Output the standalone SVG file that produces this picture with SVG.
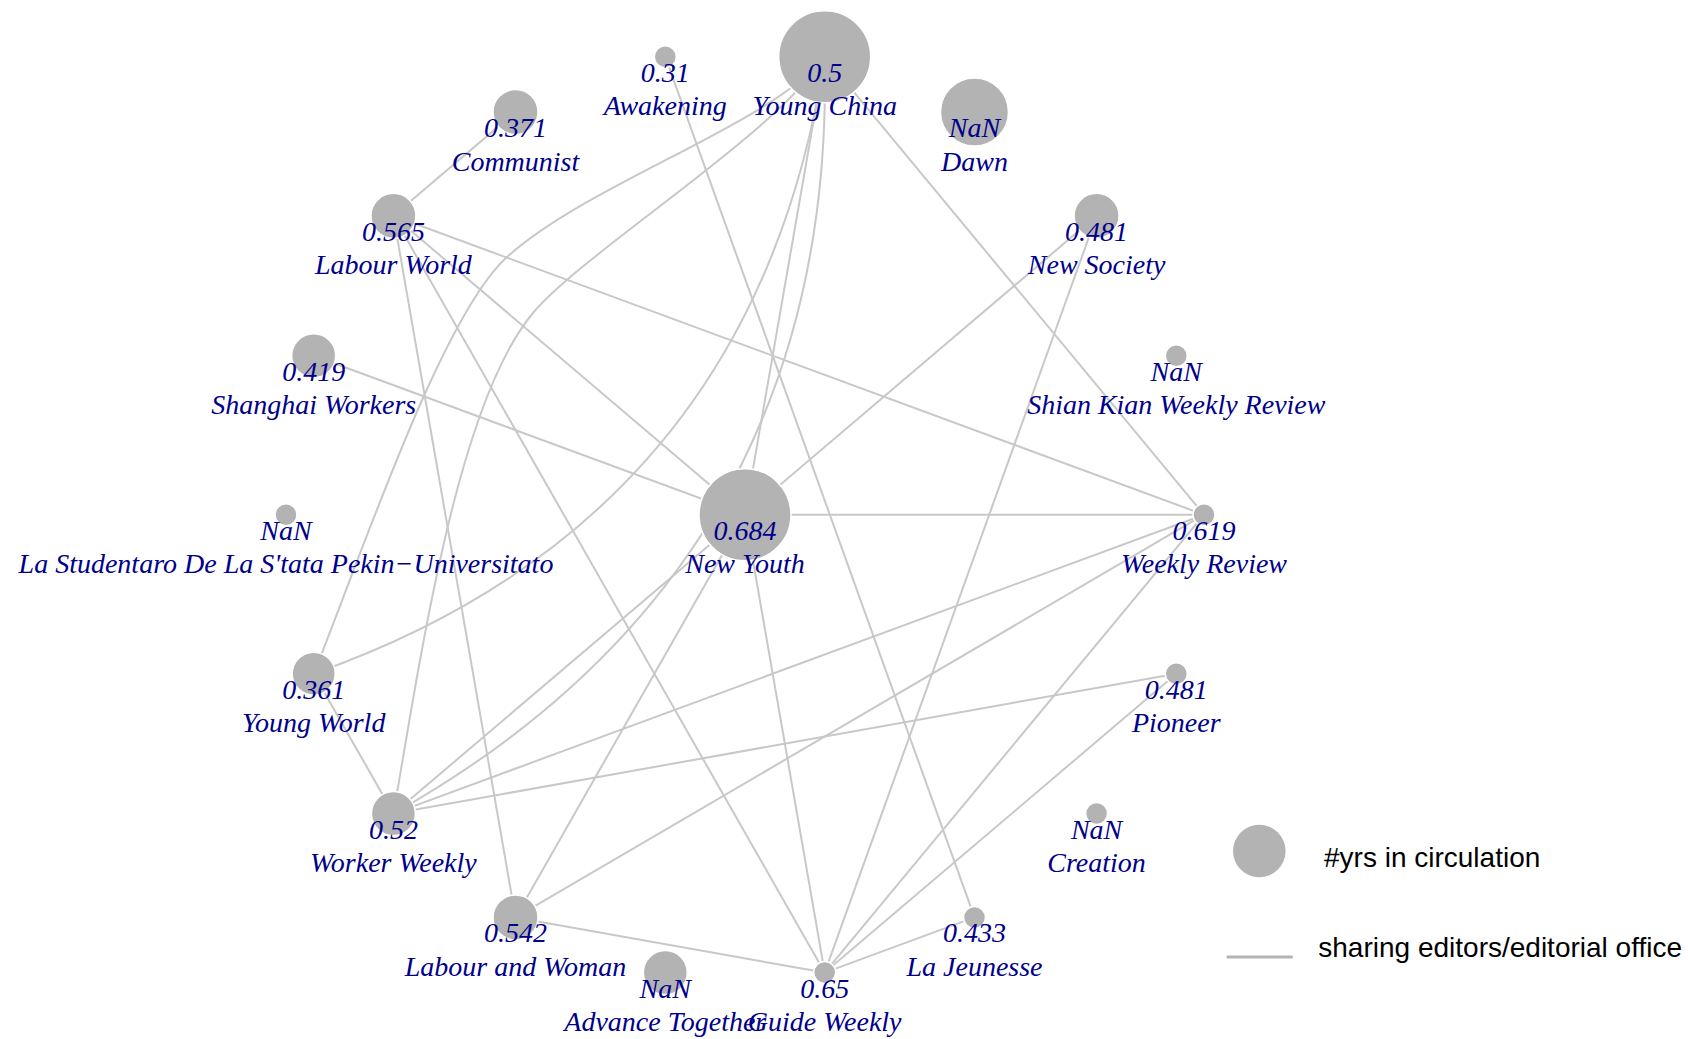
<svg xmlns="http://www.w3.org/2000/svg" width="1688" height="1039" viewBox="0 0 1688 1039">
<style>
.e{stroke:#c8c8c8;stroke-width:2;fill:none}
.n{fill:#b3b3b3;stroke:#ffffff;stroke-width:1.5}
.t{font-family:"Liberation Serif","Times New Roman",serif;font-style:italic;font-size:28px;fill:#00008b;text-anchor:middle}
.lg{font-family:"Liberation Sans",Arial,sans-serif;font-size:28px;fill:#000000}
</style>
<rect width="1688" height="1039" fill="#ffffff"/>
<g id="edges">
<line class="e" x1="515.5" y1="112" x2="393.4" y2="215.8"/>
<line class="e" x1="393.4" y1="215.8" x2="1204" y2="514.7"/>
<line class="e" x1="393.4" y1="215.8" x2="745" y2="514.7"/>
<line class="e" x1="393.4" y1="215.8" x2="824.7" y2="972.6"/>
<line class="e" x1="393.4" y1="215.8" x2="515.5" y2="917.4"/>
<line class="e" x1="313.7" y1="355.7" x2="745" y2="514.7"/>
<line class="e" x1="313.7" y1="673.7" x2="393.4" y2="813.6"/>
<line class="e" x1="824.7" y1="56.8" x2="745" y2="514.7"/>
<line class="e" x1="824.7" y1="56.8" x2="1204" y2="514.7"/>
<line class="e" x1="665.3" y1="56.8" x2="974.5" y2="917.4"/>
<line class="e" x1="1096.6" y1="215.8" x2="745" y2="514.7"/>
<line class="e" x1="1096.6" y1="215.8" x2="824.7" y2="972.6"/>
<line class="e" x1="745" y1="514.7" x2="1204" y2="514.7"/>
<line class="e" x1="745" y1="514.7" x2="393.4" y2="813.6"/>
<line class="e" x1="745" y1="514.7" x2="515.5" y2="917.4"/>
<line class="e" x1="745" y1="514.7" x2="824.7" y2="972.6"/>
<line class="e" x1="1204" y1="514.7" x2="393.4" y2="813.6"/>
<line class="e" x1="1204" y1="514.7" x2="515.5" y2="917.4"/>
<line class="e" x1="1204" y1="514.7" x2="824.7" y2="972.6"/>
<line class="e" x1="1176.3" y1="673.7" x2="393.4" y2="813.6"/>
<line class="e" x1="1176.3" y1="673.7" x2="824.7" y2="972.6"/>
<line class="e" x1="974.5" y1="917.4" x2="824.7" y2="972.6"/>
<line class="e" x1="515.5" y1="917.4" x2="824.7" y2="972.6"/>
<path class="e" d="M824.7,56.8 Q754.3,518.6 313.7,673.7"/>
<path class="e" d="M824.7,56.8 C770,125 588.5,183.2 507,257 C440.3,317.4 358.8,562.5 313.7,673.7"/>
<path class="e" d="M824.7,56.8 Q836.1,564.6 393.4,813.6"/>
<path class="e" d="M824.7,56.8 C775,135 584.4,251.7 533,313 C455.8,404.9 419.5,665.9 393.4,813.6"/>
</g>
<g id="node-awakening"><circle class="n" cx="665.3" cy="56.8" r="11"/><text class="t" x="665.3" y="81.8">0.31</text><text class="t" x="665.3" y="115.3">Awakening</text></g>
<g id="node-young-china"><circle class="n" cx="824.7" cy="56.8" r="46"/><text class="t" x="824.7" y="81.8">0.5</text><text class="t" x="824.7" y="115.3">Young China</text></g>
<g id="node-communist"><circle class="n" cx="515.5" cy="112" r="22.5"/><text class="t" x="515.5" y="137">0.371</text><text class="t" x="515.5" y="170.5">Communist</text></g>
<g id="node-dawn"><circle class="n" cx="974.5" cy="112" r="34"/><text class="t" x="974.5" y="137">NaN</text><text class="t" x="974.5" y="170.5">Dawn</text></g>
<g id="node-labour-world"><circle class="n" cx="393.4" cy="215.8" r="22.5"/><text class="t" x="393.4" y="240.8">0.565</text><text class="t" x="393.4" y="274.3">Labour World</text></g>
<g id="node-new-society"><circle class="n" cx="1096.6" cy="215.8" r="22.5"/><text class="t" x="1096.6" y="240.8">0.481</text><text class="t" x="1096.6" y="274.3">New Society</text></g>
<g id="node-shanghai-workers"><circle class="n" cx="313.7" cy="355.7" r="22"/><text class="t" x="313.7" y="380.7">0.419</text><text class="t" x="313.7" y="414.2">Shanghai Workers</text></g>
<g id="node-shian-kian"><circle class="n" cx="1176.3" cy="355.7" r="11"/><text class="t" x="1176.3" y="380.7">NaN</text><text class="t" x="1176.3" y="414.2">Shian Kian Weekly Review</text></g>
<g id="node-la-studentaro"><circle class="n" cx="286" cy="514.7" r="11"/><text class="t" x="286" y="539.7">NaN</text><text class="t" x="286" y="573.2">La Studentaro De La S'tata Pekin−Universitato</text></g>
<g id="node-new-youth"><circle class="n" cx="745" cy="514.7" r="46"/><text class="t" x="745" y="539.7">0.684</text><text class="t" x="745" y="573.2">New Youth</text></g>
<g id="node-weekly-review"><circle class="n" cx="1204" cy="514.7" r="11"/><text class="t" x="1204" y="539.7">0.619</text><text class="t" x="1204" y="573.2">Weekly Review</text></g>
<g id="node-young-world"><circle class="n" cx="313.7" cy="673.7" r="21.5"/><text class="t" x="313.7" y="698.7">0.361</text><text class="t" x="313.7" y="732.2">Young World</text></g>
<g id="node-pioneer"><circle class="n" cx="1176.3" cy="673.7" r="11"/><text class="t" x="1176.3" y="698.7">0.481</text><text class="t" x="1176.3" y="732.2">Pioneer</text></g>
<g id="node-worker-weekly"><circle class="n" cx="393.4" cy="813.6" r="22"/><text class="t" x="393.4" y="838.6">0.52</text><text class="t" x="393.4" y="872.1">Worker Weekly</text></g>
<g id="node-creation"><circle class="n" cx="1096.6" cy="813.6" r="11"/><text class="t" x="1096.6" y="838.6">NaN</text><text class="t" x="1096.6" y="872.1">Creation</text></g>
<g id="node-labour-and-woman"><circle class="n" cx="515.5" cy="917.4" r="22.5"/><text class="t" x="515.5" y="942.4">0.542</text><text class="t" x="515.5" y="975.9">Labour and Woman</text></g>
<g id="node-la-jeunesse"><circle class="n" cx="974.5" cy="917.4" r="11"/><text class="t" x="974.5" y="942.4">0.433</text><text class="t" x="974.5" y="975.9">La Jeunesse</text></g>
<g id="node-advance-together"><circle class="n" cx="665.3" cy="972.6" r="22"/><text class="t" x="665.3" y="997.6">NaN</text><text class="t" x="665.3" y="1031.1">Advance Together</text></g>
<g id="node-guide-weekly"><circle class="n" cx="824.7" cy="972.6" r="11"/><text class="t" x="824.7" y="997.6">0.65</text><text class="t" x="824.7" y="1031.1">Guide Weekly</text></g>
<g id="legend">
<circle cx="1259.3" cy="851" r="26.3" fill="#b3b3b3"/>
<text class="lg" x="1324" y="866.5">#yrs in circulation</text>
<line x1="1226.7" y1="957" x2="1292.7" y2="957" stroke="#b3b3b3" stroke-width="3"/>
<text class="lg" x="1318.3" y="956.7">sharing editors/editorial office</text>
</g>
</svg>
